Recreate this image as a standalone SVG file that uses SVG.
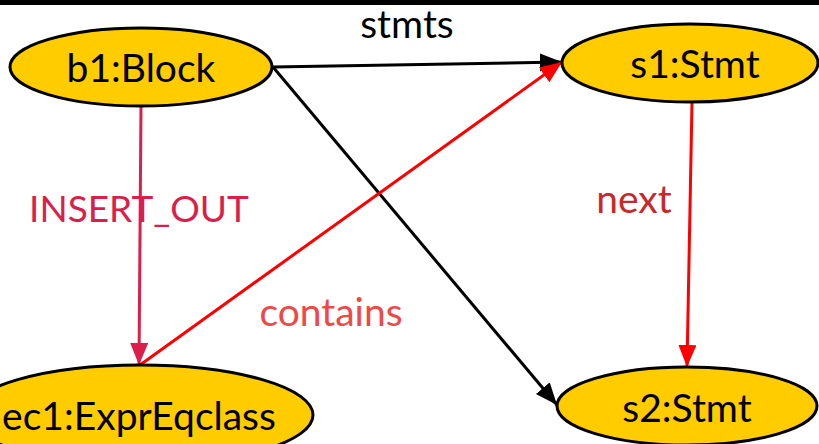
<svg xmlns="http://www.w3.org/2000/svg" width="819" height="444" viewBox="0 0 819 444">
<style>
.node ellipse{fill:#FFCC00;stroke:#000;stroke-width:3}
text{font-family:Lato,"Open Sans","DejaVu Sans",sans-serif;font-size:39px}
.nl{fill:#000;text-anchor:middle}
.e{fill:none;stroke-width:3}
</style>
<defs>
<marker id="ab" markerUnits="userSpaceOnUse" markerWidth="24" markerHeight="20" refX="22" refY="9" orient="auto"><path d="M0,0 L22,9 L0,18 z" fill="#000"/></marker>
<marker id="ar" markerUnits="userSpaceOnUse" markerWidth="24" markerHeight="20" refX="22" refY="9" orient="auto"><path d="M0,0 L22,9 L0,18 z" fill="#FF0000"/></marker>
<marker id="ac" markerUnits="userSpaceOnUse" markerWidth="24" markerHeight="20" refX="22" refY="9" orient="auto"><path d="M0,0 L22,9 L0,18 z" fill="#DC1E4A"/></marker>
</defs>
<rect x="0" y="0" width="819" height="5" fill="#000"/>
<g id="edges">
<line class="e" x1="273" y1="67" x2="562" y2="62" stroke="#000" marker-end="url(#ab)"/>
<line class="e" x1="273" y1="67" x2="557" y2="405" stroke="#000" marker-end="url(#ab)"/>
<line class="e" x1="141" y1="106" x2="139" y2="365" stroke="#DC1E4A" marker-end="url(#ac)"/>
<line class="e" x1="140" y1="365" x2="562" y2="62" stroke="#FF0000" marker-end="url(#ar)"/>
<line class="e" x1="692" y1="102" x2="687" y2="367" stroke="#FF0000" marker-end="url(#ar)"/>
<text x="407" y="38" text-anchor="middle" fill="#000">stmts</text>
<text x="139" y="222" text-anchor="middle" fill="#DC1E4A" style="font-size:37px">INSERT_OUT</text>
<text x="331" y="326" text-anchor="middle" fill="#F04747">contains</text>
<text x="634" y="213" text-anchor="middle" fill="#C8282A">next</text>
</g>
<g id="b1" class="node"><ellipse cx="141" cy="67" rx="131" ry="39"/><text class="nl" x="141" y="82">b1:Block</text></g>
<g id="s1" class="node"><ellipse cx="690" cy="63" rx="128" ry="39"/><text class="nl" x="695" y="78">s1:Stmt</text></g>
<g id="s2" class="node"><ellipse cx="687" cy="406" rx="130" ry="39"/><text class="nl" x="687" y="422">s2:Stmt</text></g>
<g id="ec1" class="node"><ellipse cx="140" cy="415" rx="173" ry="50"/><text class="nl" x="139" y="430">ec1:ExprEqclass</text></g>
</svg>
